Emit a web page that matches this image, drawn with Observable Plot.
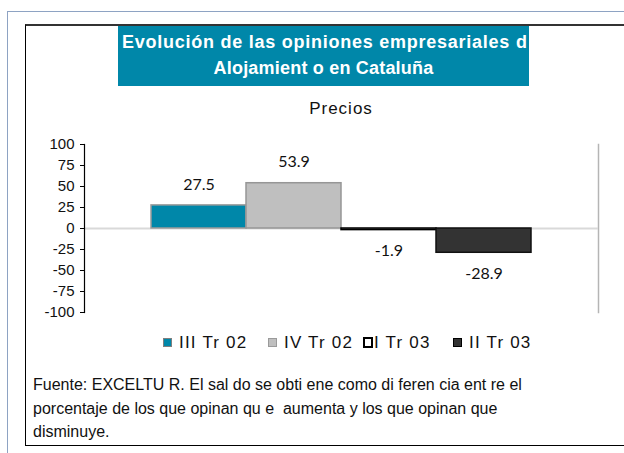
<!DOCTYPE html>
<html>
<head>
<meta charset="utf-8">
<script src="https://cdn.jsdelivr.net/npm/d3@7"></script>
<script src="https://cdn.jsdelivr.net/npm/@observablehq/plot@0.6"></script>
<style>
  html, body { margin: 0; padding: 0; background: #fff; }
  body { width: 624px; height: 453px; position: relative; overflow: hidden; font-family: "Liberation Sans", Arial, sans-serif; }
  .outer { position: absolute; left: 7px; top: 11px; right: -10px; bottom: -10px; border-top: 1.5px solid #8ea3c3; border-left: 1.5px solid #8ea3c3; }
  .box { position: absolute; left: 25px; top: 24px; width: 640px; height: 422px; border: 1px solid #000; border-top: 2px solid #333; box-sizing: border-box; }
  .title { position: absolute; left: 118px; top: 26px; width: 411px; height: 60px; background: #0087a9; color: #fff; font-weight: bold; font-size: 18px; white-space: nowrap; }
  .t1 { position: absolute; left: 4px; top: 6px; letter-spacing: 0.75px; }
  .t2 { position: absolute; left: 0; width: 100%; text-align: center; top: 32px; letter-spacing: 0.2px; }
  .sub { position: absolute; left: 241px; width: 200px; text-align: center; top: 99px; font-size: 17px; letter-spacing: 1px; color: #111; }
  #chart { position: absolute; left: 0; top: 124px; }
  .legend { position: absolute; top: 333px; left: 0; font-size: 17px; color: #111; }
  .li { position: absolute; white-space: nowrap; letter-spacing: 1.2px; }
  .sw { position: absolute; width: 9px; height: 9px; box-sizing: border-box; top: 5px; }
  .foot { position: absolute; left: 33px; top: 373px; font-size: 16px; line-height: 23.5px; color: #111; white-space: nowrap; }
</style>
</head>
<body>
<div class="outer"></div>
<div class="box"></div>
<div class="title"><div class="t1">Evolución de las opiniones empresariales d</div><div class="t2">Alojamient o en Cataluña</div></div>
<div class="sub">Precios</div>
<div id="chart"></div>
<div class="legend" id="legend"></div>
<div class="foot">Fuente: EXCELTU R. El sal do se obti ene como di feren cia ent re el<br>porcentaje de los que opinan qu e&nbsp; aumenta y los que opinan que<br>disminuye.</div>
<script>
const series = ["III Tr 02", "IV Tr 02", "I Tr 03", "II Tr 03"];
const values = [27.5, 53.9, -1.9, -28.9];
const yTicks = [-100, -75, -50, -25, 0, 25, 50, 75, 100];
const fills = ["#0087a9", "#bfbfbf", "#ffffff", "#333333"];
const strokes = ["#9a9a9a", "#969696", "#000000", "#111111"];
const legendX = [163, 268, 363, 453];

const data = series.map((s, i) => ({series: s, value: values[i], idx: i}));

const chart = Plot.plot({
  width: 624,
  height: 200,
  marginLeft: 84,
  marginRight: 26,
  marginTop: 20,
  marginBottom: 12,
  x: {domain: series, paddingInner: 0, paddingOuter: 0.705, axis: null},
  y: {domain: [-100, 100]},
  style: {fontFamily: "'Liberation Sans', Arial, sans-serif", fontSize: "15px", color: "#111"},
  marks: [
    Plot.frame({anchor: "right", stroke: "#b5b5b5", strokeWidth: 1.5}),
    Plot.ruleY([0], {stroke: "#d9d9d9", strokeWidth: 2}),
    Plot.barY(data, {x: "series", y: "value", fill: d => fills[d.idx], stroke: d => strokes[d.idx], strokeWidth: 1.5, inset: 0}),
    Plot.text(data.filter(d => d.value >= 0), {x: "series", y: "value", text: d => String(d.value), dy: -21, fontSize: 16, fontFamily: "Lato, sans-serif", fill: "#111"}),
    Plot.text(data.filter(d => d.value < 0), {x: "series", y: "value", text: d => String(d.value), dy: 21, fontSize: 16, fontFamily: "Lato, sans-serif", fill: "#111"}),
    Plot.axisY({ticks: yTicks, tickSize: 4, tickPadding: 6, tickFormat: d => String(d), label: null, stroke: "#000", fill: "#111", fontSize: 15}),
    Plot.frame({anchor: "left", stroke: "#000", strokeWidth: 1.2})
  ]
});
document.getElementById("chart").appendChild(chart);

const legend = document.getElementById("legend");
series.forEach((s, i) => {
  const item = document.createElement("div");
  item.className = "li";
  item.style.left = legendX[i] + "px";
  const sw = document.createElement("div");
  sw.className = "sw";
  sw.style.left = "0px";
  sw.style.background = fills[i];
  sw.style.border = i === 2 ? "2.5px solid #000" : ("1px solid " + (i === 0 ? "#7f7f7f" : i === 1 ? "#9a9a9a" : "#000"));
  if (i === 2) { sw.style.width = "10px"; sw.style.height = "11px"; sw.style.top = "4px"; }
  const tx = document.createElement("span");
  tx.style.paddingLeft = (i === 2 ? 11 : 16) + "px";
  tx.textContent = s;
  item.appendChild(sw);
  item.appendChild(tx);
  legend.appendChild(item);
});
</script>
</body>
</html>
